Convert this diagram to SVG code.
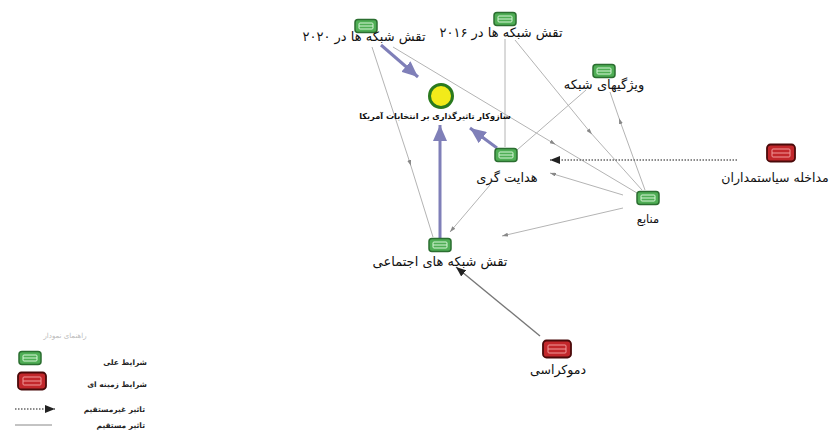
<svg xmlns="http://www.w3.org/2000/svg" xmlns:xlink="http://www.w3.org/1999/xlink" width="834" height="430" viewBox="0 0 834 430">
<style>
.lbl{font-family:"DejaVu Sans",sans-serif;font-size:13px;fill:#111;text-anchor:middle}
.lbs{font-family:"DejaVu Sans",sans-serif;font-size:8.2px;fill:#111;text-anchor:middle;font-weight:bold}
.leg{font-family:"DejaVu Sans",sans-serif;font-size:7.5px;fill:#222;text-anchor:end;font-weight:bold}
.thin{fill:none;stroke:#b4b4b4;stroke-width:1}
.main{fill:none;stroke:#7f7fb8;stroke-width:3}
.dot{fill:none;stroke:#666;stroke-width:1.3;stroke-dasharray:1.5 1.5}
.dir{fill:none;stroke:#777;stroke-width:1.4}
</style>
<defs>
<marker id="big" markerUnits="userSpaceOnUse" viewBox="0 0 16 14" refX="16" refY="7" markerWidth="16" markerHeight="14" orient="auto"><path d="M0,0 L16,7 L0,14 z" fill="#7f7fb8"/></marker>
<marker id="blk" markerUnits="userSpaceOnUse" viewBox="0 0 10 8" refX="10" refY="4" markerWidth="10" markerHeight="8" orient="auto"><path d="M0,0 L10,4 L0,8 z" fill="#222"/></marker>
<marker id="sm" markerUnits="userSpaceOnUse" viewBox="0 0 6 4" refX="3" refY="2" markerWidth="6" markerHeight="4" orient="auto"><path d="M0,0 L6,2 L0,4 z" fill="#888"/></marker>
<marker id="sme" markerUnits="userSpaceOnUse" viewBox="0 0 6 4" refX="6" refY="2" markerWidth="6" markerHeight="4" orient="auto"><path d="M0,0 L6,2 L0,4 z" fill="#888"/></marker>
<g id="ig">
<rect x="-11" y="-6.5" width="22" height="13" rx="3" fill="#4fae55" stroke="#2b6e30" stroke-width="1.5"/>
<rect x="-7" y="-3" width="14" height="6" rx="1" fill="none" stroke="#d6f5d6" stroke-width="1"/>
<line x1="-7" y1="0" x2="7" y2="0" stroke="#d6f5d6" stroke-width="1"/>
</g>
<g id="ir">
<rect x="-14" y="-8.5" width="28" height="17" rx="3.5" fill="#c2272b" stroke="#4a0a0a" stroke-width="1.8"/>
<rect x="-9" y="-4" width="18" height="8" rx="1" fill="none" stroke="#f29a9a" stroke-width="1"/>
<line x1="-9" y1="0" x2="9" y2="0" stroke="#f29a9a" stroke-width="1"/>
</g>
</defs>
<rect width="834" height="430" fill="#fff"/>
<g id="connectors">
<polyline class="thin" points="372,47 410,163 433,237" marker-mid="url(#sm)"/>
<polyline class="thin" points="393,47 553,143 637,193" marker-mid="url(#sm)"/>
<line class="thin" x1="505" y1="39" x2="505" y2="147"/>
<polyline class="thin" points="515,40 590,132 642,190" marker-mid="url(#sm)"/>
<line class="thin" x1="586" y1="90" x2="517" y2="150"/>
<polyline class="thin" points="645,190 620,121 610,92" marker-mid="url(#sm)"/>
<line class="thin" x1="623" y1="195" x2="550" y2="173" marker-end="url(#sme)"/>
<line class="thin" x1="623" y1="208" x2="502" y2="236" marker-end="url(#sme)"/>
<line class="thin" x1="490" y1="185" x2="450" y2="232" marker-end="url(#sme)"/>
<line class="main" x1="381" y1="45" x2="418" y2="77" marker-end="url(#big)"/>
<line class="main" x1="440" y1="238" x2="440" y2="125" marker-end="url(#big)"/>
<line class="main" x1="497" y1="148" x2="470" y2="128" marker-end="url(#big)"/>
<line class="dot" x1="737" y1="160" x2="550" y2="160" marker-end="url(#blk)"/>
<line class="dir" x1="540" y1="336" x2="456" y2="267" marker-end="url(#blk)"/>
</g>
<g id="n2020"><use xlink:href="#ig" x="366" y="26"/><text class="lbl" x="364" y="41">تقش شبکه ها در ۲۰۲۰</text></g>
<g id="n2016"><use xlink:href="#ig" x="505" y="19"/><text class="lbl" x="501" y="37">تقش شبکه ها در ۲۰۱۶</text></g>
<g id="features"><use xlink:href="#ig" x="604" y="71"/><text class="lbl" x="604" y="89">ویژگیهای شبکه</text></g>
<g id="center"><circle cx="441" cy="96" r="11.5" fill="#f2ea1a" stroke="#2a7a1e" stroke-width="3"/><text class="lbs" x="435" y="119">سازوکار تاثیرگذاری بر انتخابات آمریکا</text></g>
<g id="guidance"><use xlink:href="#ig" x="506" y="155"/><text class="lbl" x="507" y="182">هدایت گری</text></g>
<g id="resources"><use xlink:href="#ig" x="648" y="198"/><text class="lbl" x="648" y="223" style="font-size:11.5px">منابع</text></g>
<g id="politicians"><use xlink:href="#ir" x="781" y="153"/><text class="lbl" x="775" y="182" style="font-size:12.5px">مداخله سیاستمداران</text></g>
<g id="social"><use xlink:href="#ig" x="440" y="245"/><text class="lbl" x="440" y="266">تقش شبکه های اجتماعی</text></g>
<g id="democracy"><use xlink:href="#ir" x="557" y="349"/><text class="lbl" x="558" y="374" style="font-size:12.5px">دموکراسی</text></g>
<g id="legend">
<text x="65" y="338" style="font-family:'DejaVu Sans',sans-serif;font-size:7px;fill:#bbb;text-anchor:middle">راهنمای نمودار</text>
<use xlink:href="#ig" x="30" y="358"/>
<text class="leg" x="147" y="365">شرایط علی</text>
<use xlink:href="#ir" x="32" y="381"/>
<text class="leg" x="147" y="387">شرایط زمینه ای</text>
<line class="dot" x1="15" y1="409" x2="55" y2="409" marker-end="url(#blk)"/>
<text class="leg" x="145" y="412">تاثیر غیرمستقیم</text>
<line x1="15" y1="425" x2="52" y2="425" stroke="#888" stroke-width="1"/>
<text class="leg" x="145" y="428">تاثیر مستقیم</text>
</g>
</svg>
